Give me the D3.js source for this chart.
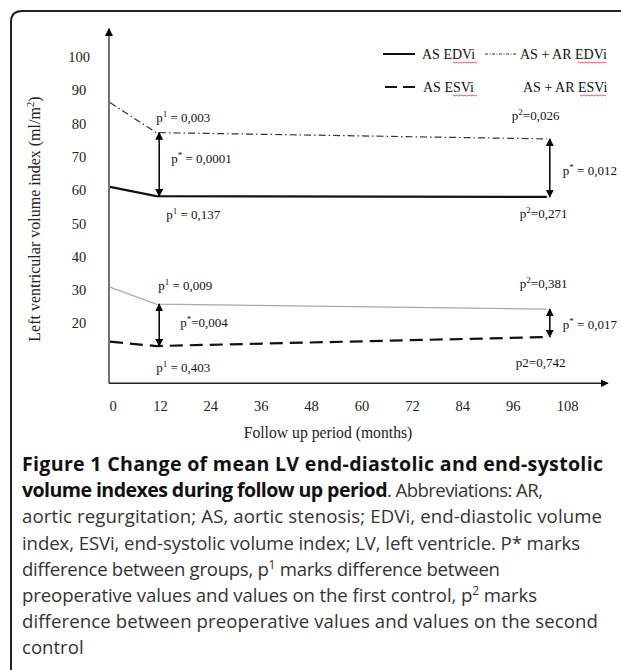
<!DOCTYPE html>
<html>
<head>
<meta charset="utf-8">
<script src="https://cdn.jsdelivr.net/npm/d3@7"></script>
<style>
  html, body { margin: 0; padding: 0; background: #fff; }
  svg { display: block; }
</style>
</head>
<body>
<div id="chart"></div>
<script>
// follow up points (months) and mean volume indexes (ml/m2)
const months = [0, 11, 104];
const asEdvi = [61, 58.2, 58];
const asArEdvi = [86.3, 77.3, 75.4];
const asEsvi = [14.5, 13.2, 15.9];
const asArEsvi = [30.9, 25.8, 24.3];

const xTicks = [0, 12, 24, 36, 48, 60, 72, 84, 96, 108];
const yTicks = [20, 30, 40, 50, 60, 70, 80, 90, 100];

// p values: [month, value, label parts]
const pLabels = [
  { m: 11, v: 80.5, dx: 0, sup: '1', pre: 'p', post: ' = 0,003' },
  { m: 11, v: 68.3, dx: 15, sup: '*', pre: 'p', post: ' = 0,0001' },
  { m: 11, v: 51.5, dx: 10, sup: '1', pre: 'p', post: ' = 0,137' },
  { m: 11, v: 30, dx: 2, sup: '1', pre: 'p', post: ' = 0,009' },
  { m: 11, v: 19, dx: 24, sup: '*', pre: 'p', post: '=0,004' },
  { m: 11, v: 5.5, dx: 0, sup: '1', pre: 'p', post: ' = 0,403' },
  { m: 104, v: 81, dx: -35, sup: '2', pre: 'p', post: '=0,026' },
  { m: 104, v: 64.6, dx: 16, sup: '*', pre: 'p', post: ' = 0,012' },
  { m: 104, v: 51.6, dx: -27, sup: '2', pre: 'p', post: '=0,271' },
  { m: 104, v: 30.6, dx: -27, sup: '2', pre: 'p', post: '=0,381' },
  { m: 104, v: 18.3, dx: 16, sup: '*', pre: 'p', post: ' = 0,017' },
  { m: 104, v: 6.9, dx: -31, sup: '', pre: 'p2', post: '=0,742' }
];

const width = 621, height = 670;
const serif = '"Liberation Serif", "Times New Roman", serif';
const sans = '"Open Sans", "Noto Sans", sans-serif';

const svg = d3.select('#chart').append('svg')
  .attr('width', width)
  .attr('height', height);

const defs = svg.append('defs');
defs.append('marker')
  .attr('id', 'head')
  .attr('viewBox', '0 0 10 10')
  .attr('refX', 9).attr('refY', 5)
  .attr('markerWidth', 8).attr('markerHeight', 8)
  .attr('markerUnits', 'userSpaceOnUse')
  .attr('orient', 'auto-start-reverse')
  .append('path').attr('d', 'M0,0L10,5L0,10Z').attr('fill', '#000');

// frame with rounded top-left corner
svg.append('path')
  .attr('d', 'M11,672V22Q11,11 22,11H623')
  .attr('fill', 'none')
  .attr('stroke', '#222')
  .attr('stroke-width', 2);

const x = d3.scaleLinear().domain([0, 108]).range([110, 563.6]);
const y = d3.scaleLinear().domain([0, 100]).range([390, 57]);

// axes with arrow tips
svg.append('line')
  .attr('x1', x(0) - 1).attr('x2', x(0) - 1)
  .attr('y1', y(2)).attr('y2', y(108.5))
  .attr('stroke', '#444').attr('stroke-width', 1.5)
  .attr('marker-end', 'url(#head)');
svg.append('line')
  .attr('x1', x(0) - 1).attr('x2', x(118.5))
  .attr('y1', y(2)).attr('y2', y(2))
  .attr('stroke', '#222').attr('stroke-width', 1.5)
  .attr('marker-end', 'url(#head)');

svg.selectAll('.ytick')
  .data(yTicks)
  .enter().append('text')
  .attr('class', 'ytick')
  .attr('x', 79)
  .attr('y', d => y(d))
  .attr('dy', '0.35em')
  .attr('text-anchor', 'middle')
  .attr('font-family', serif)
  .attr('font-size', 14.5)
  .attr('fill', '#222')
  .text(d => d);

svg.selectAll('.xtick')
  .data(xTicks)
  .enter().append('text')
  .attr('class', 'xtick')
  .attr('x', d => x(d) + (d === 108 ? 4 : d === 0 ? 3 : 0))
  .attr('y', 411)
  .attr('text-anchor', 'middle')
  .attr('font-family', serif)
  .attr('font-size', 14.5)
  .attr('fill', '#222')
  .text(d => d);

svg.append('text')
  .attr('x', 328).attr('y', 438)
  .attr('text-anchor', 'middle')
  .attr('font-family', serif)
  .attr('font-size', 15.7)
  .attr('fill', '#222')
  .text('Follow up period (months)');

const ytitle = svg.append('text')
  .attr('transform', 'translate(40,219) rotate(-90)')
  .attr('text-anchor', 'middle')
  .attr('font-family', serif)
  .attr('font-size', 16)
  .attr('fill', '#222');
ytitle.append('tspan').text('Left ventricular volume index (ml/m');
ytitle.append('tspan').attr('dy', -6).attr('font-size', 11).text('2');
ytitle.append('tspan').attr('dy', 6).text(')');

// series
const series = [
  { values: asArEdvi, stroke: '#333', width: 1.2, dash: '7,3,1.5,3' },
  { values: asEdvi, stroke: '#111', width: 2.2, dash: null },
  { values: asArEsvi, stroke: '#aaa', width: 1.2, dash: null },
  { values: asEsvi, stroke: '#111', width: 2.2, dash: '13,7' }
];

const line = d3.line()
  .x((d, i) => x(months[i]))
  .y(d => y(d));

svg.selectAll('.series')
  .data(series)
  .enter().append('path')
  .attr('class', 'series')
  .attr('d', d => line(d.values))
  .attr('fill', 'none')
  .attr('stroke', d => d.stroke)
  .attr('stroke-width', d => d.width)
  .attr('stroke-dasharray', d => d.dash);

// double arrows between groups at both controls
const gaps = [
  { i: 1, top: asArEdvi, bottom: asEdvi },
  { i: 2, top: asArEdvi, bottom: asEdvi },
  { i: 1, top: asArEsvi, bottom: asEsvi },
  { i: 2, top: asArEsvi, bottom: asEsvi }
];
svg.selectAll('.gap')
  .data(gaps)
  .enter().append('line')
  .attr('class', 'gap')
  .attr('x1', d => x(months[d.i]) + 3)
  .attr('x2', d => x(months[d.i]) + 3)
  .attr('y1', d => y(d.top[d.i]))
  .attr('y2', d => y(d.bottom[d.i]))
  .attr('stroke', '#000')
  .attr('stroke-width', 1.5)
  .attr('marker-start', 'url(#head)')
  .attr('marker-end', 'url(#head)');

// p value labels
const pl = svg.selectAll('.plabel')
  .data(pLabels)
  .enter().append('text')
  .attr('class', 'plabel')
  .attr('x', d => x(d.m) + d.dx)
  .attr('y', d => y(d.v))
  .attr('font-family', serif)
  .attr('font-size', 13)
  .attr('fill', '#111');
pl.append('tspan').text(d => d.pre);
pl.append('tspan').attr('dy', d => d.sup ? -5 : 0).attr('font-size', 9).text(d => d.sup);
pl.append('tspan').attr('dy', d => d.sup ? 5 : 0).text(d => d.post);

// legend
const legend = svg.append('g').attr('font-family', serif).attr('font-size', 14).attr('fill', '#111');
const legendItems = [
  { x1: 383, x2: 415, ly: 54, tx: 422, ty: 59, label: 'AS EDVi', stroke: '#111', w: 2, dash: null, sq: [453, 478] },
  { x1: 485, x2: 516, ly: 54, tx: 520, ty: 59, label: 'AS + AR EDVi', stroke: '#333', w: 1.2, dash: '3,1.5,1,1.5', sq: [578, 608] },
  { x1: 385, x2: 415, ly: 87, tx: 423, ty: 92, label: 'AS ESVi', stroke: '#111', w: 2.2, dash: '12,6', sq: [453, 478] },
  { x1: null, x2: null, ly: 87, tx: 523, ty: 92, label: 'AS + AR ESVi', stroke: 'none', w: 0, dash: null, sq: [580, 608] }
];
legendItems.forEach(d => {
  if (d.x1 !== null) {
    legend.append('line')
      .attr('x1', d.x1).attr('x2', d.x2)
      .attr('y1', d.ly).attr('y2', d.ly)
      .attr('stroke', d.stroke)
      .attr('stroke-width', d.w)
      .attr('stroke-dasharray', d.dash);
  }
  legend.append('text').attr('x', d.tx).attr('y', d.ty).text(d.label);
  // spell-check squiggle under the abbreviation
  const pts = d3.range(d.sq[0], d.sq[1], 2).map((px, k) => [px, d.ty + 3 + (k % 2)]);
  legend.append('path')
    .attr('d', d3.line()(pts))
    .attr('fill', 'none')
    .attr('stroke', '#d33')
    .attr('stroke-width', 0.8);
});

// caption, each line fitted to its width in the figure
const capLines = [
  [{ t: 'Figure 1 Change of mean LV end-diastolic and end-systolic', b: true }],
  [{ t: 'volume indexes during follow up period', b: true }, { t: '. Abbreviations: AR,' }],
  [{ t: 'aortic regurgitation; AS, aortic stenosis; EDVi, end-diastolic volume' }],
  [{ t: 'index, ESVi, end-systolic volume index; LV, left ventricle. P* marks' }],
  [{ t: 'difference between groups, p' }, { t: '1', sup: true }, { t: ' marks difference between' }],
  [{ t: 'preoperative values and values on the first control, p' }, { t: '2', sup: true }, { t: ' marks' }],
  [{ t: 'difference between preoperative values and values on the second' }],
  [{ t: 'control' }]
];
const capWidths = [581, 521, 580, 558, 478, 515, 576, null];
const caption = svg.append('g')
  .attr('font-family', sans)
  .attr('font-size', 18.6)
  .attr('fill', '#333');
capLines.forEach((parts, i) => {
  const t = caption.append('text')
    .attr('x', 22)
    .attr('y', 471 + i * 26.2);
  if (capWidths[i]) t.attr('textLength', capWidths[i]).attr('lengthAdjust', 'spacing');
  parts.forEach(p => {
    const s = t.append('tspan').text(p.t);
    if (p.b) s.attr('font-weight', 'bold').attr('fill', '#111').attr('font-size', 19.6);
    if (p.sup) s.attr('font-size', 12).attr('baseline-shift', '7');
  });
});
</script>
</body>
</html>
